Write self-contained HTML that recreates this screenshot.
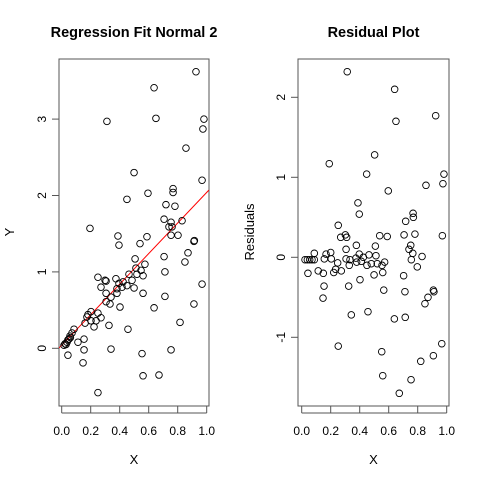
<!DOCTYPE html>
<html><head><meta charset="utf-8"><style>
body{margin:0;background:#fff}
svg{display:block;font-family:"Liberation Sans",Arial,sans-serif}
</style></head><body>
<svg id="c" width="480" height="480" viewBox="0 0 480 480"></svg>
<script>
const fitX=[.926,.637,.312,.650,.981,.974,.857,.499,.968,.768,.768,.595,.450,.719,.781,.706,.754,.830,.195,.740,.761,.388,.588,.754,.802,.395,.540,.912,.915,.871,.850,.706,.506,.574,.712,.512,.547,.519,.561,.464,.485,.250,.299,.306,.374,.395,.423,.416,.450,.499,.271,.381,.381,.306,.561,.340,.712,.306,.333,.968,.402,.637,.912,.202,.250,.181,.174,.271,.202,.237,.161,.223,.326,.457,.816,.085,.071,.057,.154,.112,.043,.037,.023,.016,.154,.340,.754,.043,.554,.147,.561,.671,.250,.030,.050,.060];
const fitY=[3.62,3.41,2.97,3.01,3.00,2.87,2.62,2.30,2.20,2.09,2.04,2.03,1.95,1.88,1.86,1.69,1.65,1.67,1.57,1.59,1.59,1.47,1.46,1.48,1.48,1.35,1.37,1.40,1.41,1.25,1.13,1.20,1.17,1.10,1.00,1.05,1.02,.97,.95,.97,.89,.93,.89,.88,.91,.85,.87,.80,.82,.79,.80,.78,.72,.72,.72,.67,.68,.61,.58,.84,.54,.53,.58,.48,.46,.44,.41,.40,.36,.36,.33,.28,.30,.25,.34,.25,.20,.16,.12,.08,.11,.08,.06,.04,-.02,-.01,-.02,-.09,-.07,-.19,-.36,-.35,-.58,.05,.12,.14];
const lineCoef=[0.04,2.0];
const resX=[.314,.641,.924,.650,.503,.190,.448,.981,.857,.974,.597,.388,.397,.768,.770,.717,.252,.269,.301,.310,.538,.590,.706,.781,.970,.377,.508,.306,.752,.740,.766,.087,.168,.200,.397,.464,.512,.830,.023,.039,.055,.071,.087,.156,.204,.306,.333,.374,.425,.379,.411,.248,.328,.450,.480,.521,.572,.554,.756,.797,.234,.043,.114,.149,.221,.273,.559,.499,.703,.402,.154,.324,.566,.712,.908,.912,.871,.850,.147,.457,.342,.639,.714,.252,.966,.552,.908,.821,.559,.754,.673];
const resY=[2.32,2.10,1.77,1.70,1.28,1.17,1.04,1.04,.90,.92,.83,.68,.54,.55,.50,.45,.40,.25,.28,.25,.27,.26,.28,.29,.27,.15,.14,.10,.15,.10,.05,.05,.04,.06,.04,.03,.02,.01,-.03,-.03,-.03,-.03,-.03,-.02,-.02,-.02,-.03,-.01,0,-.06,-.05,-.07,-.10,-.10,-.08,-.08,-.06,-.10,-.03,-.12,-.15,-.20,-.17,-.20,-.19,-.17,-.19,-.22,-.23,-.28,-.36,-.36,-.41,-.43,-.41,-.43,-.50,-.58,-.51,-.68,-.72,-.77,-.75,-1.11,-1.08,-1.18,-1.23,-1.30,-1.48,-1.53,-1.70];
const xTicks=[0,0.2,0.4,0.6,0.8,1.0];
const xTickLabels=["0.0","0.2","0.4","0.6","0.8","1.0"];
const leftYTicks=[0,1,2,3];
const rightYTicks=[-1,0,1,2];

const svg=document.getElementById('c');
const NS='http://www.w3.org/2000/svg';
function mk(tag,attrs,parent){const e=document.createElementNS(NS,tag);for(const k in attrs)e.setAttribute(k,attrs[k]);(parent||svg).appendChild(e);return e;}

function panel(o){
  const g=mk('g',{});
  
  
  const sx=v=>o.x0+v*o.xs, sy=v=>o.y0-v*o.ys;
  const box=mk('rect',{x:o.bx,y:59,width:o.bw,height:347,fill:'none',stroke:'#555','stroke-width':1},g);
  
  
  const t=mk('text',{x:o.bx+o.bw/2,y:37,'text-anchor':'middle','font-size':'14.5','font-weight':'bold'},g);
  t.textContent=o.title;
  
  
  xTicks.forEach((v,i)=>{
    mk('line',{x1:sx(v),x2:sx(v),y1:406,y2:413,stroke:'#555'},g);
    const l=mk('text',{x:sx(v),y:435,'text-anchor':'middle','font-size':'12'},g);
    l.textContent=xTickLabels[i];
    
    
  });
  mk('line',{x1:sx(0),x2:sx(1),y1:413,y2:413,stroke:'#555'},g);
  const xl=mk('text',{x:o.bx+o.bw/2,y:464,'text-anchor':'middle','font-size':'13'},g);
  xl.textContent='X';
  
  
  o.yTicks.forEach(v=>{
    mk('line',{x1:o.bx-7,x2:o.bx,y1:sy(v),y2:sy(v),stroke:'#555'},g);
    const l=mk('text',{x:o.bx-13,y:sy(v),'text-anchor':'middle','font-size':'12',transform:`rotate(-90 ${o.bx-13} ${sy(v)})`},g);
    l.textContent=String(v);
    
    
  });
  const yl=mk('text',{x:o.ylx,y:232,'text-anchor':'middle','font-size':'13',transform:`rotate(-90 ${o.ylx} 232)`},g);
  yl.textContent=o.ytitle;
  
  
  if(o.line){
    const [a,b]=o.line; const x1=(o.bx-o.x0)/o.xs, x2=(o.bx+o.bw-o.x0)/o.xs;
    const rl=mk('line',{x1:sx(x1),y1:sy(a+b*x1),x2:sx(x2),y2:sy(a+b*x2),stroke:'#f00','stroke-width':1},g);
    
    
    rl.setAttribute('clip-path','url(#clipL)');
  }
  o.xs_.forEach((v,i)=>{
    const c=mk('circle',{cx:sx(v),cy:sy(o.ys_[i]),r:3.3,fill:'none',stroke:'#000','stroke-width':0.9},g);
    
    
  });
}
const defs=mk('defs',{});
const cp=mk('clipPath',{id:'clipL'},defs);
mk('rect',{x:59,y:59,width:150,height:347},cp);

panel({name:'regression-panel',title:'Regression Fit Normal 2',ytitle:'Y',bx:59,bw:150,x0:61.7,xs:145,y0:348.3,ys:76.4,yTicks:leftYTicks,ylx:14,xs_:fitX,ys_:fitY,line:lineCoef});
panel({name:'residual-panel',title:'Residual Plot',ytitle:'Residuals',bx:298,bw:151,x0:301.7,xs:145,y0:257.3,ys:80,yTicks:rightYTicks,ylx:254,xs_:resX,ys_:resY});
</script>
</body></html>
